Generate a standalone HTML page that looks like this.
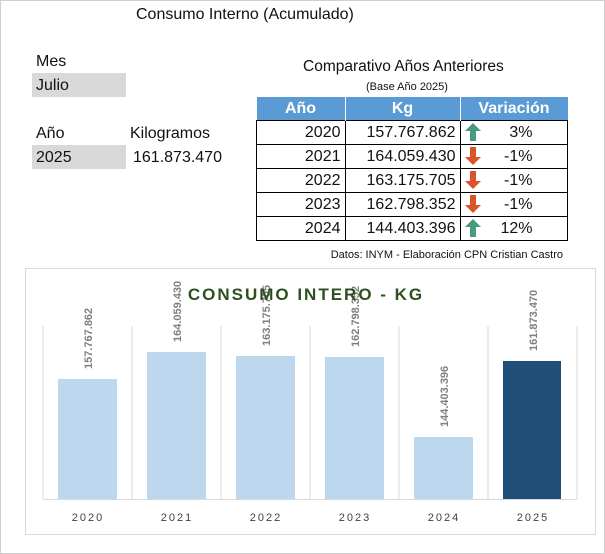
<!DOCTYPE html>
<html><head><style>
body{margin:0;width:605px;height:554px;background:#fff;position:relative;overflow:hidden;font-family:"Liberation Sans",sans-serif;color:#111}
.a{position:absolute;white-space:nowrap}
.g{position:absolute;background:#d9d9d9}
table{position:absolute;left:256px;top:97px;border-collapse:collapse;font-size:16px}
td{border:1px solid #000;height:23px;padding:0 4px;}
th{background:#5b9bd5;color:#fff;height:23px;font-size:16px;border-right:1px solid #fff;padding:0}
</style></head><body>
<div style="position:absolute;left:0;top:0;width:603px;height:552px;border:1px solid #d0d0d0"></div>
<div class="a" style="left:136px;top:6px;font-size:16px">Consumo Interno (Acumulado)</div>
<div class="a" style="left:36px;top:53px;font-size:16px">Mes</div>
<div class="g" style="left:32px;top:73px;width:94px;height:24px"></div>
<div class="a" style="left:36px;top:77px;font-size:16px">Julio</div>
<div class="a" style="left:36px;top:125px;font-size:16px">Año</div>
<div class="a" style="left:130px;top:125px;font-size:16px">Kilogramos</div>
<div class="g" style="left:32px;top:145px;width:94px;height:24px"></div>
<div class="a" style="left:36px;top:149px;font-size:16px">2025</div>
<div class="a" style="left:133px;top:149px;font-size:16px">161.873.470</div>
<div class="a" style="left:303px;top:58px;font-size:15.5px">Comparativo Años Anteriores</div>
<div class="a" style="left:366px;top:81px;font-size:11px">(Base Año 2025)</div>
<table>
<tr><th style="width:88px">Año</th><th style="width:114px">Kg</th><th style="width:107px;border-right:none">Variación</th></tr>
<tr><td style="text-align:right">2020</td><td style="text-align:right">157.767.862</td><td><svg width="16" height="18" style="vertical-align:middle"><path d="M8 0 16 8H11V18H5V8H0Z" fill="#4a9b7c"/></svg><span style="display:inline-block;width:52px;text-align:right">3%</span></td></tr>
<tr><td style="text-align:right">2021</td><td style="text-align:right">164.059.430</td><td><svg width="16" height="18" style="vertical-align:middle"><path d="M8 18 16 10H11V0H5V10H0Z" fill="#d9532b"/></svg><span style="display:inline-block;width:52px;text-align:right">-1%</span></td></tr>
<tr><td style="text-align:right">2022</td><td style="text-align:right">163.175.705</td><td><svg width="16" height="18" style="vertical-align:middle"><path d="M8 18 16 10H11V0H5V10H0Z" fill="#d9532b"/></svg><span style="display:inline-block;width:52px;text-align:right">-1%</span></td></tr>
<tr><td style="text-align:right">2023</td><td style="text-align:right">162.798.352</td><td><svg width="16" height="18" style="vertical-align:middle"><path d="M8 18 16 10H11V0H5V10H0Z" fill="#d9532b"/></svg><span style="display:inline-block;width:52px;text-align:right">-1%</span></td></tr>
<tr><td style="text-align:right">2024</td><td style="text-align:right">144.403.396</td><td><svg width="16" height="18" style="vertical-align:middle"><path d="M8 0 16 8H11V18H5V8H0Z" fill="#4a9b7c"/></svg><span style="display:inline-block;width:52px;text-align:right">12%</span></td></tr>
</table>
<div class="a" style="right:42px;top:249px;font-size:11px">Datos: INYM - Elaboración CPN Cristian Castro</div>
<svg class="a" style="left:0;top:0" width="605" height="554">
<rect x="25.5" y="268.5" width="570" height="266" fill="none" stroke="#d9d9d9"/>
<g stroke="#d9d9d9">
<line x1="43" y1="326" x2="43" y2="499"/><line x1="132" y1="326" x2="132" y2="499"/><line x1="221" y1="326" x2="221" y2="499"/><line x1="310" y1="326" x2="310" y2="499"/><line x1="399" y1="326" x2="399" y2="499"/><line x1="488" y1="326" x2="488" y2="499"/><line x1="577" y1="326" x2="577" y2="499"/>
<line x1="43" y1="499.5" x2="577" y2="499.5"/>
</g>
<g fill="#bdd7ee">
<rect x="58" y="379" width="59" height="120"/><rect x="147" y="352" width="59" height="147"/><rect x="236" y="356" width="59" height="143"/><rect x="325" y="357" width="59" height="142"/><rect x="414" y="437" width="59" height="62"/>
</g>
<rect x="503" y="361" width="58" height="138" fill="#1f4e79"/>
<g font-size="11" fill="#7f7f7f" font-weight="bold" text-anchor="start">
<text transform="translate(92,369) rotate(-90)">157.767.862</text>
<text transform="translate(181,342) rotate(-90)">164.059.430</text>
<text transform="translate(270,346) rotate(-90)">163.175.705</text>
<text transform="translate(359,347) rotate(-90)">162.798.352</text>
<text transform="translate(448,427) rotate(-90)">144.403.396</text>
<text transform="translate(537,351) rotate(-90)">161.873.470</text>
</g>
<text x="306" y="300" text-anchor="middle" font-size="17" font-weight="bold" fill="#2f4f1f" letter-spacing="2">CONSUMO INTERO - KG</text>
<g font-size="11" fill="#404040" text-anchor="middle" letter-spacing="2">
<text x="88" y="521">2020</text><text x="177" y="521">2021</text><text x="266" y="521">2022</text><text x="355" y="521">2023</text><text x="444" y="521">2024</text><text x="533" y="521">2025</text>
</g>
</svg>
</body></html>
